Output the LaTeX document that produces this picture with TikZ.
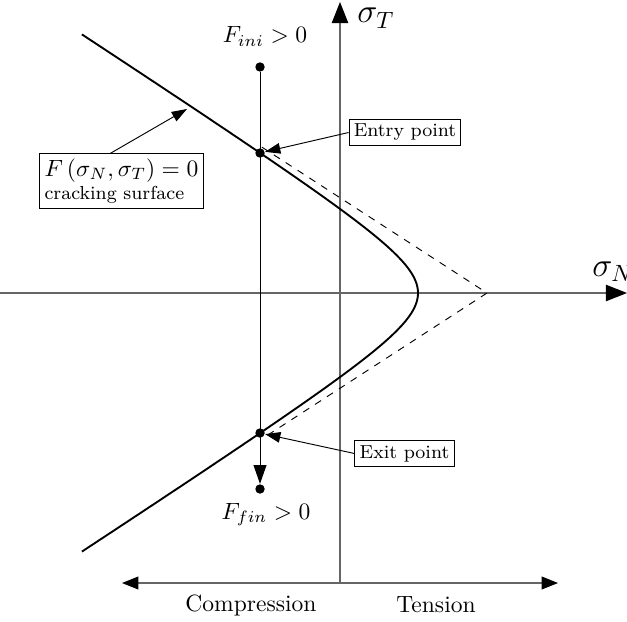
\documentclass[tikz,border=0pt]{standalone}
\usetikzlibrary{arrows.meta}
\begin{document}
\begin{tikzpicture}[x=0.425pt,y=-0.425pt,
  axisline/.style={line width=0.45pt,black!60},
  dotnode/.style={circle,fill=black,inner sep=0pt,minimum size=4pt},
  boxnode/.style={draw,fill=white,inner sep=2pt,font=\footnotesize},
  bigtip/.style={-{Triangle[length=9pt,width=7pt,color=black]}},
  smalltip/.style={-{Triangle[length=6.5pt,width=4.5pt]}},
  labeltext/.style={anchor=base}]
\useasboundingbox (0,0) rectangle (627,621);
% axes
\coordinate (xl) at (0,293);
\coordinate (xr) at (627,293);
\coordinate (yb) at (340,583);
\coordinate (yt) at (340,2);
\coordinate (bl) at (122,583);
\coordinate (br) at (558,583);
\draw[axisline,bigtip] (xl) -- (xr);
\draw[axisline,bigtip] (yb) -- (yt);
\draw[axisline,{Triangle[length=7pt,width=5.5pt,color=black]}-{Triangle[length=7pt,width=5.5pt,color=black]}] (bl) -- (br);
\node[anchor=base west,inner sep=0pt] (lN) at (592,276) {\Large $\sigma_N$};
\node[anchor=base west,inner sep=0pt] (lT) at (357,23) {\Large $\sigma_T$};
\node[labeltext] (comp) at (251,611) {Compression};
\node[labeltext] (tens) at (436,612) {Tension};
% asymptotes
\coordinate (apex) at (487,293);
\coordinate (au) at (262,147.2);
\coordinate (ad) at (262,438.8);
\draw[dashed,line width=0.4pt] (au) -- (apex) -- (ad);
% cracking surface
\draw[thick] plot[domain=-2.456:2.456,samples=120,variable=\t] ({487-69*cosh(\t)},{293+44.7*sinh(\t)});
% path
\node[dotnode] (ini) at (260,67) {};
\node[dotnode] (entry) at (260,153) {};
\node[dotnode] (exit) at (260,433) {};
\node[dotnode] (fin) at (260,489) {};
\draw[line width=0.4pt,-{Triangle[length=8pt,width=5.5pt]}] (ini) -- (fin);
\node[labeltext] (lini) at (265,43) {$F_{ini}>0$};
\node[labeltext] (lfin) at (266,519) {$F_{fin}>0$};
% annotations
\node[boxnode] (ebox) at (405,132.5) {Entry point};
\node[boxnode] (xbox) at (404.5,453.5) {Exit point};
\draw[line width=0.4pt,smalltip] (ebox.west) -- (entry);
\draw[line width=0.4pt,smalltip] (xbox.west) -- (exit);
\node[draw,fill=white,inner sep=2pt,align=left] (fbox) at (121.5,181)
  {$F\left(\sigma_N,\sigma_T\right)=0$\\[-2pt]{\footnotesize cracking surface}};
\coordinate (ftip) at (187,109);
\draw[line width=0.4pt,smalltip] ([xshift=-4.7pt]fbox.north) -- (ftip);
\end{tikzpicture}
\end{document}
